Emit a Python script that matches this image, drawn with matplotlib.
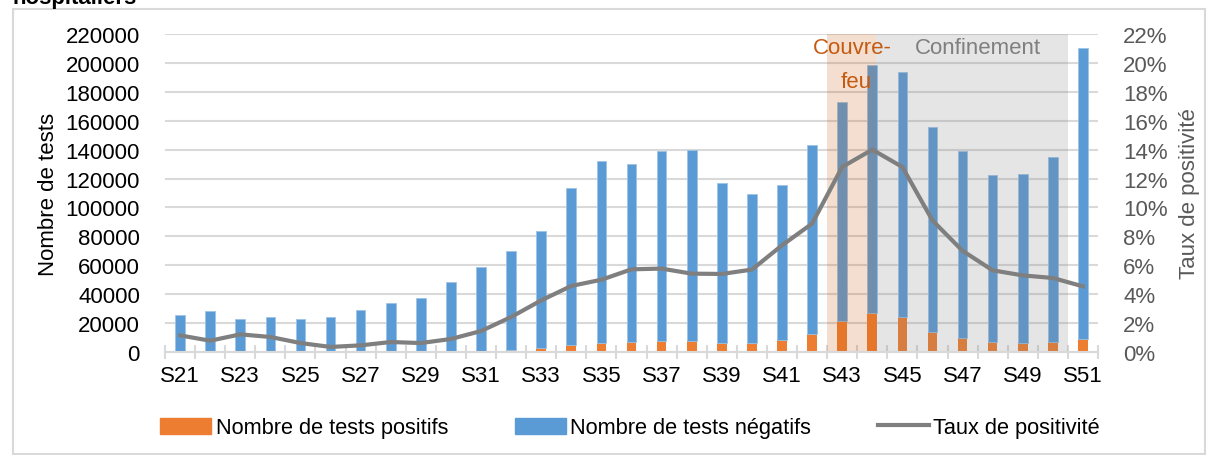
import matplotlib.pyplot as plt
from matplotlib.patches import Patch, Rectangle
from matplotlib.lines import Line2D
from matplotlib.ticker import FixedLocator, FuncFormatter

plt.rcParams["font.family"] = ["Liberation Sans", "DejaVu Sans"]

weeks = [f"S{w}" for w in range(21, 52)]
positifs = [300, 220, 280, 250, 150, 85, 130, 230, 230, 430, 850, 1600, 2900,
            4800, 6400, 7200, 7900, 7300, 6100, 6100, 8500, 12500, 21700, 27300,
            24300, 13900, 9700, 6900, 6300, 6900, 9300]
negatifs = [25100, 27980, 22820, 24250, 22950, 24215, 29070, 33570, 37470,
            47670, 57650, 68500, 81100, 108600, 125500, 122800, 131200, 132300,
            110600, 102900, 107000, 130800, 151200, 171300, 169400, 141700,
            129200, 115500, 116800, 128300, 200900]
taux = [1.15, 0.78, 1.22, 1.04, 0.62, 0.35, 0.46, 0.69, 0.62, 0.90, 1.45, 2.42,
        3.57, 4.57, 5.00, 5.72, 5.77, 5.42, 5.40, 5.70, 7.38, 8.88, 12.8, 14.0,
        12.8, 9.10, 7.00, 5.65, 5.30, 5.12, 4.54]

ORANGE = "#ED7D31"
BLUE = "#5B9BD5"
GRID = "#D9D9D9"

x = list(range(len(weeks)))

fig = plt.figure(figsize=(12.07, 4.56), dpi=100)
ax = fig.add_axes([165 / 1207, 1 - 353 / 456, (1098 - 165) / 1207, (353 - 35) / 456])

ax.bar(x, positifs, width=0.32, color=ORANGE, zorder=2)
ax.bar(x, negatifs, width=0.32, bottom=positifs, color=BLUE,
       edgecolor="#9DC3E6", linewidth=0.6, zorder=2)

# périodes
ax.axvspan(21.5, 23.12, color="#C55A11", alpha=0.2, lw=0, zorder=3)
ax.axvspan(23.12, 29.5, color="#7F7F7F", alpha=0.2, lw=0, zorder=3)
ax.text(22.35, 210500, "Couvre-", color="#C55A11", fontsize=16,
        ha="center", va="center", zorder=4)
ax.text(22.45, 187000, "feu", color="#C55A11", fontsize=16,
        ha="center", va="center", zorder=4)
ax.text(26.5, 210500, "Confinement", color="#7F7F7F", fontsize=16,
        ha="center", va="center", zorder=4)

ax.set_xlim(-0.5, 30.5)
ax.set_ylim(0, 220000)
ax.set_yticks(range(0, 220001, 20000))
ax.yaxis.grid(True, color=GRID, linewidth=1.5, zorder=0)
ax.set_axisbelow(True)
for s in ["top", "left", "right"]:
    ax.spines[s].set_visible(False)
ax.spines["bottom"].set_color(GRID)
ax.spines["bottom"].set_linewidth(1.5)
ax.spines["bottom"].set_zorder(5)

ax.xaxis.set_major_locator(FixedLocator([i - 0.5 for i in range(32)]))
ax.xaxis.set_major_formatter(FuncFormatter(lambda v, p: ""))
ax.xaxis.set_minor_locator(FixedLocator(x[::2]))
ax.set_xticklabels(weeks[::2], minor=True)
ax.tick_params(axis="x", which="major", direction="inout", length=10,
               width=1.5, color=GRID)
ax.tick_params(axis="x", which="minor", length=0, pad=9, labelsize=16)
ax.tick_params(axis="y", length=0, pad=18, labelsize=16)
ax.set_ylabel("Nombre de tests", fontsize=16, labelpad=5)

ax2 = ax.twinx()
ax2.plot(x, taux, color="#7F7F7F", linewidth=3, zorder=5)
ax2.set_ylim(0, 22)
ax2.set_yticks(range(0, 23, 2))
ax2.yaxis.set_major_formatter(FuncFormatter(lambda v, p: f"{v:.0f}%"))
ax2.tick_params(axis="y", length=0, pad=18, labelsize=16, labelcolor="#595959")
for s in ["top", "left", "right", "bottom"]:
    ax2.spines[s].set_visible(False)
ax2.set_ylabel("Taux de positivité", fontsize=16, color="#595959", labelpad=8)

handles = [Patch(color=ORANGE), Patch(color=BLUE),
           Line2D([], [], color="#7F7F7F", linewidth=3)]
labels = ["Nombre de tests positifs", "Nombre de tests négatifs",
          "Taux de positivité"]
fig.legend(handles, labels, loc="center", bbox_to_anchor=(0.522, 0.06),
           ncol=3, frameon=False, fontsize=15.7, handlelength=2.35,
           handleheight=0.75, handletextpad=0.2, columnspacing=3.05)

fig.patches.append(Rectangle((13 / 1207, 1 / 456), (1205 - 13) / 1207,
                             (446 - 1) / 456, transform=fig.transFigure,
                             fill=False, edgecolor=GRID, linewidth=1.5))
fig.text(13 / 1207, 1 - 4 / 456, "hospitaliers", fontsize=16,
         fontweight="bold", va="baseline", ha="left")

fig.savefig("out.png", dpi=100)
